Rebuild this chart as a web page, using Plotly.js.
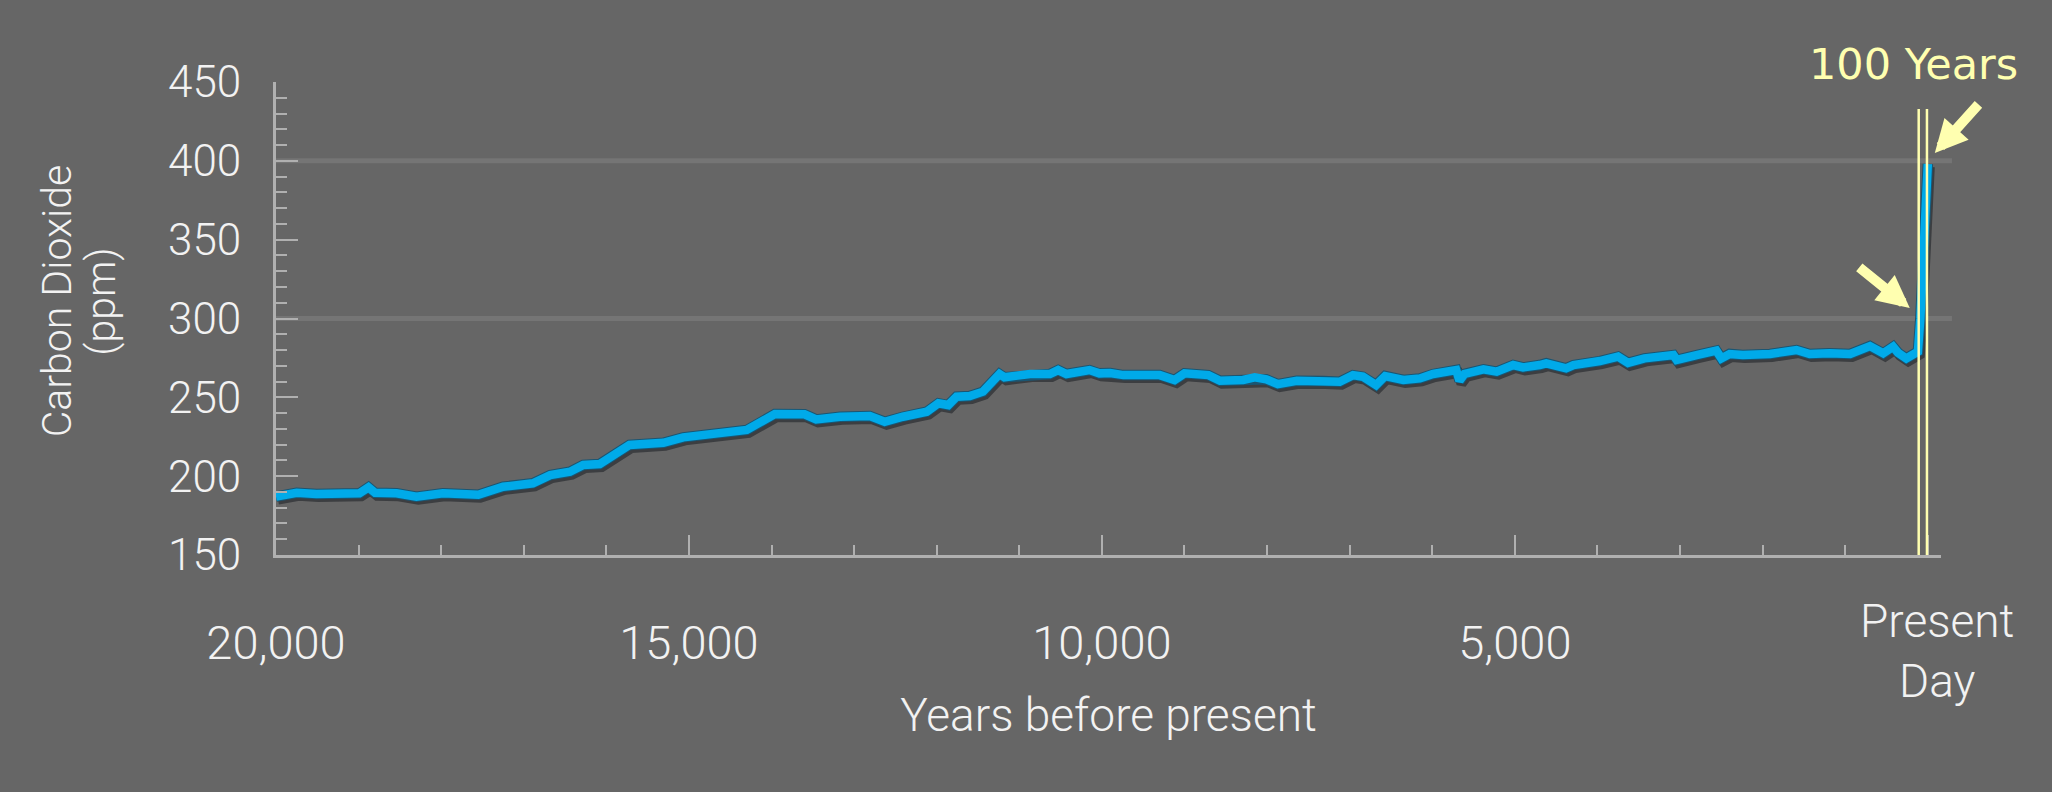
<!DOCTYPE html>
<html>
<head>
<meta charset="utf-8">
<script src="https://cdn.plot.ly/plotly-3.0.1.min.js"></script>
<style>html,body{margin:0;padding:0;background:#666666;}#chart{width:2052px;height:792px;}</style>
</head>
<body>
<div id="chart"></div>
<script>
// Years before present (x) and CO2 concentration in ppm (y)
const yearsBP = [20000,19750,19510,18990,18880,18800,18540,18300,17980,17730,17550,17250,16890,16680,16440,16280,16080,15720,15310,15070,14870,14590,14300,13960,13600,13460,13170,12810,12630,12410,12120,11980,11860,11760,11600,11440,11340,11240,11180,10870,10630,10530,10430,10150,10030,9900,9740,9300,9120,9000,8710,8570,8290,8150,8010,7870,7640,7320,7120,6960,6840,6680,6570,6350,6150,5990,5710,5670,5610,5380,5220,5020,4900,4700,4620,4380,4290,3970,3750,3630,3430,3080,3040,2800,2560,2500,2400,2240,1910,1590,1430,1190,940,700,540,420,360,260,140,120,90,73,28,8,0];
const co2ppm = [187,189.5,188.7,189.1,192.9,189.5,189.1,187,189.1,187.8,188.2,193.3,195.5,200.7,202.8,207.1,207.7,219.8,221.2,224.6,225.8,228.2,229.3,239.4,239.2,236,237.7,238.1,234.5,237.7,240.9,246.2,245.1,250.4,250.8,253.6,258.9,264.8,262.7,264.8,264.8,267.3,264.8,267.3,265.2,265.4,264.1,264.1,261,265.2,264.1,260.5,261,262.7,261.4,258.4,260.5,260.3,259.9,264.1,263.1,257.8,263.5,261,262,264.8,267.3,260.5,264.8,267.8,266.3,270.5,269,270.5,271.6,268.4,270.5,273,275.8,271.9,274.7,276.8,273.7,276.8,279.6,274.7,277.5,276.8,277.5,280,277.5,277.9,277.5,282.5,277.9,282.1,278.3,274.7,279,279,300,324,352,381,398];

const xTickVals = [20000,15000,10000,5000,0];
const xTickText = ['20,000','15,000','10,000','5,000',''];
const yTickVals = [150,200,250,300,350,400,450];
const gridLevels = [300,400];
const windowYears = [110,10];

const FONT = 'Roboto, Liberation Sans, Arial, sans-serif';
const WT = 300;
const WHITE = '#f2f2f2';
const AXC = '#b0b0b0';
const YEL = '#ffffb0';

const traces = [
  // drop shadow on a slightly shifted hidden overlay axis pair
  {x: yearsBP, y: co2ppm, xaxis:'x2', yaxis:'y2', mode:'lines', line:{color:'rgba(25,30,35,0.55)', width:10}, hoverinfo:'skip', showlegend:false},
  // outline + main line on an unshifted overlay axis pair (drawn above the shadow)
  {x: yearsBP, y: co2ppm, xaxis:'x3', yaxis:'y3', mode:'lines', line:{color:'#1a5673', width:10.5}, hoverinfo:'skip', showlegend:false},
  {x: yearsBP, y: co2ppm, xaxis:'x3', yaxis:'y3', mode:'lines', line:{color:'#00aae9', width:8.5}, hoverinfo:'skip', showlegend:false}
];

const shapes = [];
gridLevels.forEach(v => shapes.push({type:'line', xref:'paper', yref:'y', x0:0, x1:1.0066, y0:v, y1:v, layer:'below', line:{color:'#757575', width:5}}));
windowYears.forEach(v => shapes.push({type:'line', xref:'x', yref:'paper', x0:v, x1:v, y0:0, y1:0.943, layer:'above', line:{color:YEL, width:2.5}}));

const annotations = [
  {xref:'paper', yref:'paper', x:0.9832, y:1.038, text:'100 Years', showarrow:false, xanchor:'center', yanchor:'middle', font:{family:'DejaVu Sans, sans-serif', size:43, color:YEL}},
  {xref:'x', yref:'y', x:-85, y:405, ax:45, ay:-50, text:'', showarrow:true, arrowhead:2, arrowwidth:10, arrowsize:0.65, arrowcolor:YEL},
  {xref:'x', yref:'y', x:218, y:306.6, ax:-52, ay:-42, text:'', showarrow:true, arrowhead:2, arrowwidth:10, arrowsize:0.65, arrowcolor:YEL},
  {xref:'paper', yref:'paper', x:0.9976, y:-0.203, text:'Present<br>Day', showarrow:false, xanchor:'center', yanchor:'middle', font:{family:FONT, weight:WT, size:46, color:WHITE}},
  {xref:'paper', yref:'paper', x:-0.131, y:0.536, text:'Carbon Dioxide', textangle:-90, showarrow:false, xanchor:'center', yanchor:'middle', font:{family:FONT, weight:WT, size:41, color:WHITE}},
  {xref:'paper', yref:'paper', x:-0.105, y:0.536, text:'(ppm)', textangle:-90, showarrow:false, xanchor:'center', yanchor:'middle', font:{family:FONT, weight:WT, size:41, color:WHITE}}
];

const layout = {
  width:2052, height:792,
  paper_bgcolor:'#666666', plot_bgcolor:'#666666',
  margin:{l:276, r:111, t:82, b:237, pad:0},
  showlegend:false,
  xaxis:{range:[20000,-160], tickmode:'array', tickvals:xTickVals, ticktext:xTickText,
    ticks:'inside', ticklen:20, tickwidth:2, tickcolor:AXC,
    minor:{ticks:'inside', ticklen:10, tickwidth:2, tickcolor:AXC, tick0:0, dtick:1000, showgrid:false},
    showline:true, linecolor:AXC, linewidth:3, showgrid:false, zeroline:false,
    tickfont:{family:FONT, weight:WT, size:47, color:WHITE}, ticklabelstandoff:45,
    title:{text:'Years before present', font:{family:FONT, weight:WT, size:46, color:WHITE}, standoff:30},
    automargin:false, fixedrange:true},
  yaxis:{range:[150,450], tickmode:'array', tickvals:yTickVals,
    ticks:'inside', ticklen:22, tickwidth:2, tickcolor:AXC,
    minor:{ticks:'inside', ticklen:11, tickwidth:2, tickcolor:AXC, tick0:150, dtick:10, showgrid:false},
    showline:true, linecolor:AXC, linewidth:3, showgrid:false, zeroline:false,
    tickfont:{family:FONT, weight:WT, size:44, color:WHITE}, ticklabelstandoff:23,
    automargin:false, fixedrange:true},
  xaxis2:{range:[20024,-136], overlaying:'x', visible:false, fixedrange:true},
  yaxis2:{range:[151.9,451.9], overlaying:'y', visible:false, fixedrange:true},
  xaxis3:{range:[20000,-160], overlaying:'x', visible:false, fixedrange:true},
  yaxis3:{range:[150,450], overlaying:'y', visible:false, fixedrange:true},
  shapes:shapes,
  annotations:annotations
};

Plotly.newPlot('chart', traces, layout, {displayModeBar:false, staticPlot:true});
</script>
</body>
</html>
